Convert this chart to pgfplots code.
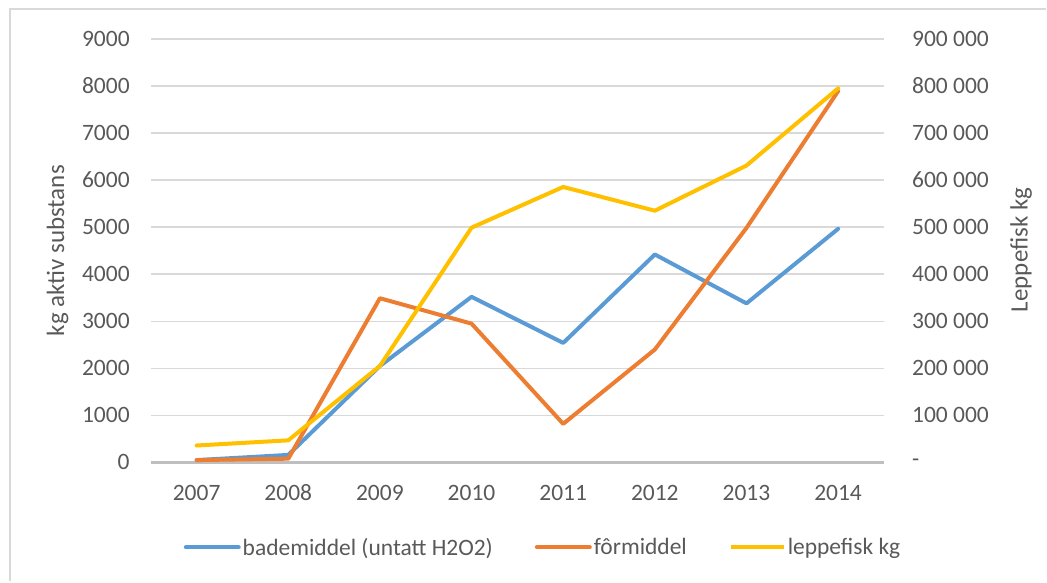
\documentclass[border=0pt]{standalone}
\usepackage{pgfplots}
\pgfplotsset{compat=1.18}
\usepackage{fontspec}
\setmainfont{Carlito}
\definecolor{cblue}{HTML}{5B9BD5}
\definecolor{corange}{HTML}{ED7D31}
\definecolor{cyellow}{HTML}{FFC000}
\definecolor{ctext}{HTML}{595959}
\definecolor{cgrid}{HTML}{D9D9D9}
\definecolor{caxis}{HTML}{BFBFBF}
\begin{document}
\begin{tikzpicture}
\pgfplotsset{
  common/.style={
    scale only axis, width=734pt, height=424pt,
    xmin=2006.5, xmax=2014.5,
    /pgf/number format/assume math mode=true,
    scaled y ticks=false,
    tick style={draw=none},
    ticklabel style={font=\fontsize{23.5}{26}\selectfont, text=ctext},
    label style={font=\fontsize{25}{28}\selectfont, text=ctext},
  }
}
\begin{axis}[common,
  ymin=0, ymax=9000,
  ytick={0,1000,...,9000},
  yticklabel style={anchor=east, inner sep=0pt, xshift=-21pt},
  /pgf/number format/1000 sep={},
  xtick={2007,...,2014},
  xticklabel style={anchor=base, inner sep=0pt, yshift=-38pt},
  axis line style={draw=none},
  ymajorgrids, major grid style={cgrid, line width=1.5pt},
  ylabel={kg aktiv substans},
  ylabel style={at={(axis description cs:-0.127,0.5)}, anchor=center, rotate=0},
  legend columns=3,
  legend style={draw=none, fill=none, at={(axis description cs:0.535,-0.2005)}, anchor=center,
    font=\fontsize{23.5}{26}\selectfont, text=ctext,
    nodes={inner sep=2pt},
    /tikz/every even column/.append style={column sep=40pt}},
  legend image code/.code={\draw[#1, line width=4pt] (0pt,0pt) -- (53pt,0pt);},
  clip=false,
]
\draw[caxis, line width=3pt] (axis cs:2006.5,0) -- (axis cs:2014.5,0);
\addplot[cblue, line width=4pt, line join=round, line cap=round] coordinates {
 (2007,50) (2008,160) (2009,2050) (2010,3520) (2011,2540) (2012,4420) (2013,3380) (2014,4965)};
\addlegendentry{bademiddel (untatt H2O2)}
\addplot[corange, line width=4pt, line join=round, line cap=round] coordinates {
 (2007,50) (2008,80) (2009,3490) (2010,2950) (2011,820) (2012,2400) (2013,4985) (2014,7890)};
\addlegendentry{fôrmiddel}
\addlegendimage{cyellow, line width=4pt}
\addlegendentry{leppefisk kg}
\end{axis}
\begin{axis}[common,
  ymin=0, ymax=900000,
  ytick={0,100000,...,900000},
  yticklabels={-,100 000,200 000,300 000,400 000,500 000,600 000,700 000,800 000,900 000},
  yticklabel style={anchor=west, inner sep=0pt, xshift=28pt},
  axis y line*=right,
  axis x line=none,
  y axis line style={draw=none},
  ylabel={Leppefisk kg},
  ylabel style={at={(axis description cs:1.187,0.502)}, anchor=center, rotate=0},
  clip=false,
]
\addplot[cyellow, line width=4pt, line join=round, line cap=round] coordinates {
 (2007,36000) (2008,47000) (2009,205000) (2010,499000) (2011,585500) (2012,535000) (2013,631000) (2014,795000)};
\end{axis}
\draw[cgrid, line width=2.5pt] (-141pt,-119pt) -- (-141pt,454pt) -- (896pt,454pt);
\useasboundingbox (-151pt,-119pt) rectangle (896pt,463pt);
\end{tikzpicture}
\end{document}
